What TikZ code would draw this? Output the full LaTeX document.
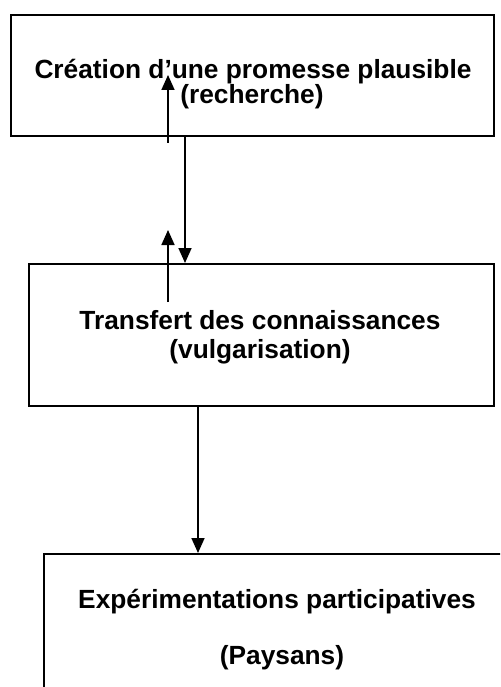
\documentclass[tikz,border=0pt]{standalone}
\usepackage{fontspec}
\setmainfont{Liberation Sans}
\usetikzlibrary{arrows.meta}
\begin{document}
\begin{tikzpicture}[x=1pt,y=-1pt,
  box/.style={draw=black, line width=2pt, rectangle, inner sep=0pt, anchor=north west},
  lbl/.style={font=\fontsize{26.3}{30}\selectfont\bfseries, inner sep=0pt, anchor=center},
  arr/.style={line width=1.7pt, -{Triangle[width=13pt,length=15pt]}}]
\useasboundingbox (0,0) rectangle (500,687);
\clip (0,0) rectangle (500,687);
% boxes
\node[box, minimum width=483pt, minimum height=120.5pt] (b1) at (10,14.5) {};
\node[box, minimum width=465pt, minimum height=142pt] (b2) at (28,263) {};
\node[box, minimum width=480pt, minimum height=200pt] (b3) at (43,553) {};
% texts
\node[lbl] (t1a) at (253,72) {Création d’une promesse plausible};
\node[lbl] (t1b) at (252,97) {(recherche)};
\node[lbl] (t2a) at (260,320) {Transfert des connaissances};
\node[lbl] (t2b) at (260,352) {(vulgarisation)};
\node[lbl] (t3a) at (277,602) {Expérimentations participatives};
\node[lbl] (t3b) at (282,658) {(Paysans)};
% connector anchors
\coordinate (u1s) at (168,143);
\coordinate (u1e) at (168,75);
\coordinate (u2s) at (168,302);
\coordinate (u2e) at (168,230);
\coordinate (d1) at (185,0);
\coordinate (d2) at (198,0);
% connectors
\draw[arr] (u1s) -- (u1e);
\draw[arr] (u2s) -- (u2e);
\draw[arr] (b1.south -| d1) -- (b2.north -| d1);
\draw[arr] (b2.south -| d2) -- (b3.north -| d2);
\end{tikzpicture}
\end{document}
